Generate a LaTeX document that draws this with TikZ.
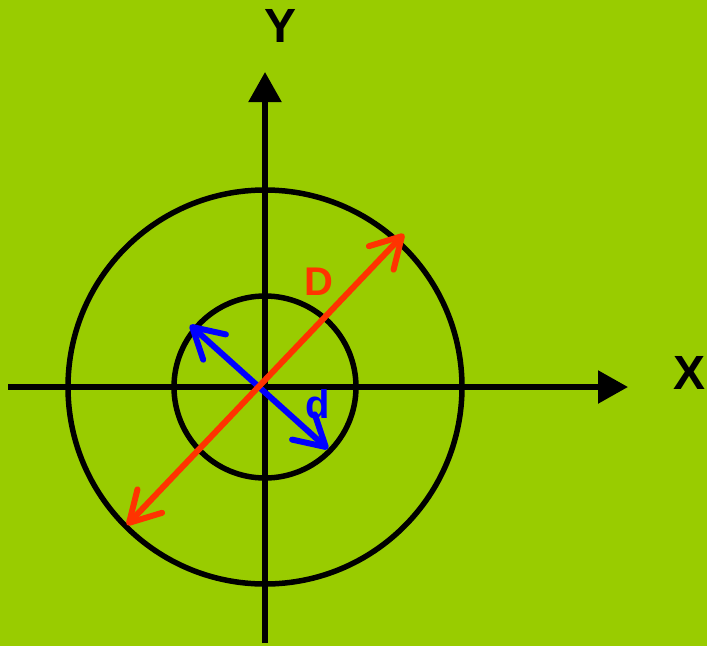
\documentclass[tikz,border=0pt]{standalone}
\usepackage{fontspec}
\setmainfont{Liberation Sans}
\usepackage{xcolor}
\usetikzlibrary{arrows.meta}

\definecolor{bggreen}{HTML}{99CC00}
\definecolor{dred}{HTML}{FF3300}
\definecolor{dblue}{HTML}{0000FF}

\begin{document}
\begin{tikzpicture}[x=1pt, y=-1pt,
    axis/.style={line width=5.5pt, -{Triangle[length=30pt, width=32pt]}},
    ring/.style={draw, line width=5.5pt},
    dimline/.style={line width=6pt, line cap=round,
        {Straight Barb[length=30pt, width=34pt, line cap=round, line join=round]}-{Straight Barb[length=30pt, width=34pt, line cap=round, line join=round]}},
    lab/.style={inner sep=0pt, font=\bfseries\fontsize{48}{48}\selectfont}
]
\fill[bggreen] (0,0) rectangle (707,646);
\useasboundingbox (0,0) rectangle (707,646);

\coordinate (O) at (265,387);
\coordinate (xs) at (8,387);
\coordinate (xe) at (628,387);
\coordinate (ys) at (265,643);
\coordinate (ye) at (265,72);

% axes
\draw[axis] (xs) -- (xe);
\draw[axis] (ys) -- (ye);

% circles
\draw[ring] (O) circle (197);
\draw[ring] (O) circle (91);

% diameters
\coordinate (d1) at (190,325);
\coordinate (d2) at (328,449);
\coordinate (D1) at (127,525);
\coordinate (D2) at (404,234);
\draw[dimline, dblue] (d1) -- (d2);
\draw[dimline, dred] (D1) -- (D2);

\node[lab] (ylab) at (281,26) {Y};
\node[lab] (xlab) at (689,373) {X};
\node[lab, dred, font=\bfseries\fontsize{40}{40}\selectfont] (Dlab) at (319,282) {D};
\node[lab, dblue, font=\bfseries\fontsize{40}{40}\selectfont] (dlab) at (318,404) {d};
\end{tikzpicture}
\end{document}
